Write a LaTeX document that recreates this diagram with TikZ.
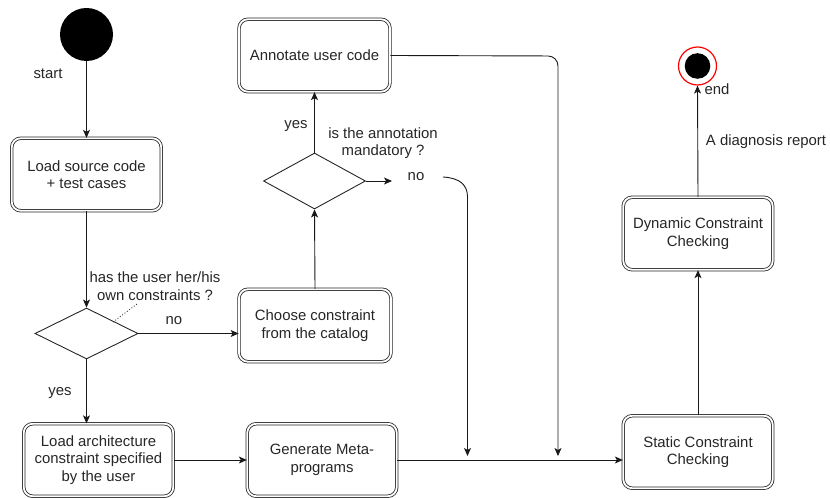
\documentclass[tikz,border=0pt]{standalone}
\usepackage{fontspec}
\setmainfont{Liberation Sans}
\usetikzlibrary{shapes.geometric,arrows.meta}
\newcommand{\fsz}{\fontsize{14.9bp}{17.6bp}\selectfont}
\begin{document}
\begin{tikzpicture}[x=1bp,y=-1bp,
  act/.style={draw=black!85, double, double distance=1.8bp, line width=0.8bp,
    rounded corners=9bp, align=center, inner sep=0pt, text=black!85, font=\fsz,
    minimum width=149.5bp, minimum height=72.5bp},
  dec/.style={diamond, draw=black!85, line width=0.9bp, inner sep=0pt},
  lbl/.style={text=black!85, font=\fsz, align=center, inner sep=0pt},
  conn/.style={draw=black!90, line width=0.9bp, -{Stealth[length=8bp,width=7bp,inset=2bp]}},
  plain/.style={draw=black!90, line width=0.9bp}]
\useasboundingbox (0,0) rectangle (830,498);

% start / end
\node[circle, fill=black, minimum size=53bp, inner sep=0pt] (start) at (86.5,34.5) {};
\node[circle, draw=red, fill=white, line width=1.2bp, minimum size=38bp, inner sep=0pt] (end) at (697.5,66) {};
\fill[black] (end.center) circle (12.8bp);

% activities
\node[act] (src) at (86.5,174.5) {Load source code\\+ test cases};
\node[act, minimum width=152bp] (choose) at (315,325.5) {Choose constraint\\from the catalog};
\node[act, minimum width=151bp] (annot) at (314.5,55.5) {Annotate user code};
\node[act] (larch) at (98.5,460) {Load architecture\\constraint specified\\by the user};
\node[act] (gen) at (322,460) {Generate Meta-\\programs};
\node[act] (static) at (698,452) {Static Constraint\\Checking};
\node[act] (dyn) at (698,233.5) {Dynamic Constraint\\Checking};

% decisions
\node[dec, minimum width=103bp, minimum height=51bp] (d1) at (86.5,333.5) {};
\node[dec, minimum width=102bp, minimum height=56bp] (d2) at (314.5,181) {};

% helper coordinates
\coordinate (noend) at (392,181);
\coordinate (nostart) at (443,177);
\coordinate (nobend) at (467.5,197);
\coordinate (join1) at (467.5,456);
\coordinate (acorner) at (558,56);
\coordinate (join2) at (558,456);

% connectors
\draw[conn] (start.south) -- (src.north);
\draw[conn] (src.south) -- (d1.north);
\draw[conn] (d1.south) -- (d1.south |- larch.north);
\draw[conn] (d1.east) -- (d1.east -| choose.west);
\draw[conn] (choose.north) -- (d2.south);
\draw[conn] (d2.north) -- (annot.south);
\draw[conn] (d2.east) -- (noend);
\draw[conn] (nostart) .. controls (460,178) and (467.5,185) .. (nobend) -- (join1);
\draw[conn, rounded corners=10bp] (annot.east) -- (acorner) -- (join2);
\draw[conn] (larch.east) -- (larch.east -| gen.west);
\draw[conn] (gen.east) -- (gen.east -| static.west);
\draw[conn] (static.north) -- (dyn.south);
\draw[conn] (dyn.north) -- (end.south);

% dotted note line
\coordinate (dotA) at (113,322);
\coordinate (dotB) at (137,304);
\draw[black!80, line width=0.9bp, dotted] (dotA) -- (dotB);

% labels
\node[lbl] (lstart) at (48,74) {start};
\node[lbl] (lq1) at (155,286) {has the user her/his\\own constraints ?};
\node[lbl] (lno1) at (174,321) {no};
\node[lbl] (lyes1) at (60,393) {yes};
\node[lbl] (lyes2) at (296,126) {yes};
\node[lbl] (lq2) at (383,143) {is the annotation\\mandatory ?};
\node[lbl] (lno2) at (416,177) {no};
\node[lbl] (lend) at (717,89) {end};
\node[lbl] (ldiag) at (766,142) {A diagnosis report};
\end{tikzpicture}
\end{document}
